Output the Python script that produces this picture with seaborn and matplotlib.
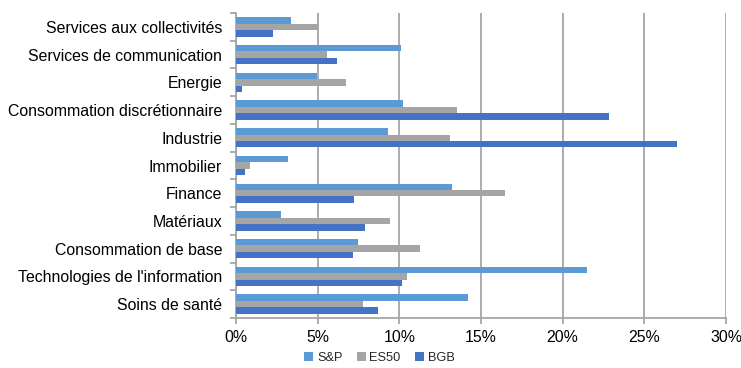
import matplotlib
matplotlib.use("Agg")
import matplotlib.pyplot as plt
import seaborn as sns
import pandas as pd
import numpy as np
from matplotlib.ticker import FuncFormatter, FixedLocator
from matplotlib.patches import Patch

categories = [
    "Services aux collectivités",
    "Services de communication",
    "Energie",
    "Consommation discrétionnaire",
    "Industrie",
    "Immobilier",
    "Finance",
    "Matériaux",
    "Consommation de base",
    "Technologies de l'information",
    "Soins de santé",
]
series_names = ["S&P", "ES50", "BGB"]
sp = [3.35, 10.08, 4.96, 10.23, 9.29, 3.16, 13.2, 2.78, 7.49, 21.51, 14.19]
es50 = [5.02, 5.6, 6.71, 13.53, 13.08, 0.84, 16.49, 9.45, 11.29, 10.45, 7.78]
bgb = [2.29, 6.17, 0.39, 22.82, 26.98, 0.55, 7.23, 7.88, 7.17, 10.14, 8.68]
colors = ["#5B9BD5", "#A5A5A5", "#4472C4"]
xticks = [0, 5, 10, 15, 20, 25, 30]

df = pd.DataFrame({
    "Secteur": categories * 3,
    "Série": [series_names[0]] * 11 + [series_names[1]] * 11 + [series_names[2]] * 11,
    "Valeur": sp + es50 + bgb,
})

sns.set_theme(style="white")
plt.rcParams["font.family"] = ["Liberation Sans", "DejaVu Sans"]

fig = plt.figure(figsize=(7.41, 3.68), dpi=100)
ax = fig.add_axes([236 / 741, 1 - 318 / 368, (726 - 236) / 741, (318 - 13) / 368])

sns.barplot(data=df, y="Secteur", x="Valeur", hue="Série", order=categories,
            hue_order=series_names, palette=colors, orient="h", width=0.7,
            saturation=1, linewidth=0, ax=ax, legend=False, zorder=3)

ax.set_xlim(0, 30)
ax.set_ylim(len(categories) - 0.5, -0.5)
ax.xaxis.set_major_locator(FixedLocator(xticks))
ax.xaxis.set_major_formatter(FuncFormatter(lambda v, p: f"{int(v)}%"))
ax.grid(axis="x", color="#A6A6A6", linewidth=1.3, zorder=0)
ax.grid(axis="y", visible=False)
ax.set_xlabel("")
ax.set_ylabel("")

for s in ["top", "right"]:
    ax.spines[s].set_visible(False)
for s in ["left", "bottom"]:
    ax.spines[s].set_visible(True)
    ax.spines[s].set_color("#A6A6A6")
    ax.spines[s].set_linewidth(1.3)

ax.set_yticks(np.arange(len(categories)))
ax.set_yticklabels(categories)
ax.set_yticks(np.arange(-0.5, len(categories), 1.0), minor=True)
ax.tick_params(axis="y", which="major", length=0, labelsize=11.4, colors="black", pad=10)
ax.tick_params(axis="y", which="minor", length=4, width=1.3, color="#A6A6A6", direction="out", left=True)
ax.tick_params(axis="x", which="major", length=4, width=1.3, color="#A6A6A6", direction="out",
               bottom=True, labelsize=11.4, labelcolor="black", pad=5)

handles = [Patch(facecolor=c, edgecolor="none") for c in colors]
fig.legend(handles, series_names, loc="center", bbox_to_anchor=(0.512, 0.027), ncol=3,
           frameon=False, fontsize=9.2, handlelength=0.7, handleheight=0.7,
           handletextpad=0.3, columnspacing=1.1)

fig.savefig("out.png", dpi=100)
